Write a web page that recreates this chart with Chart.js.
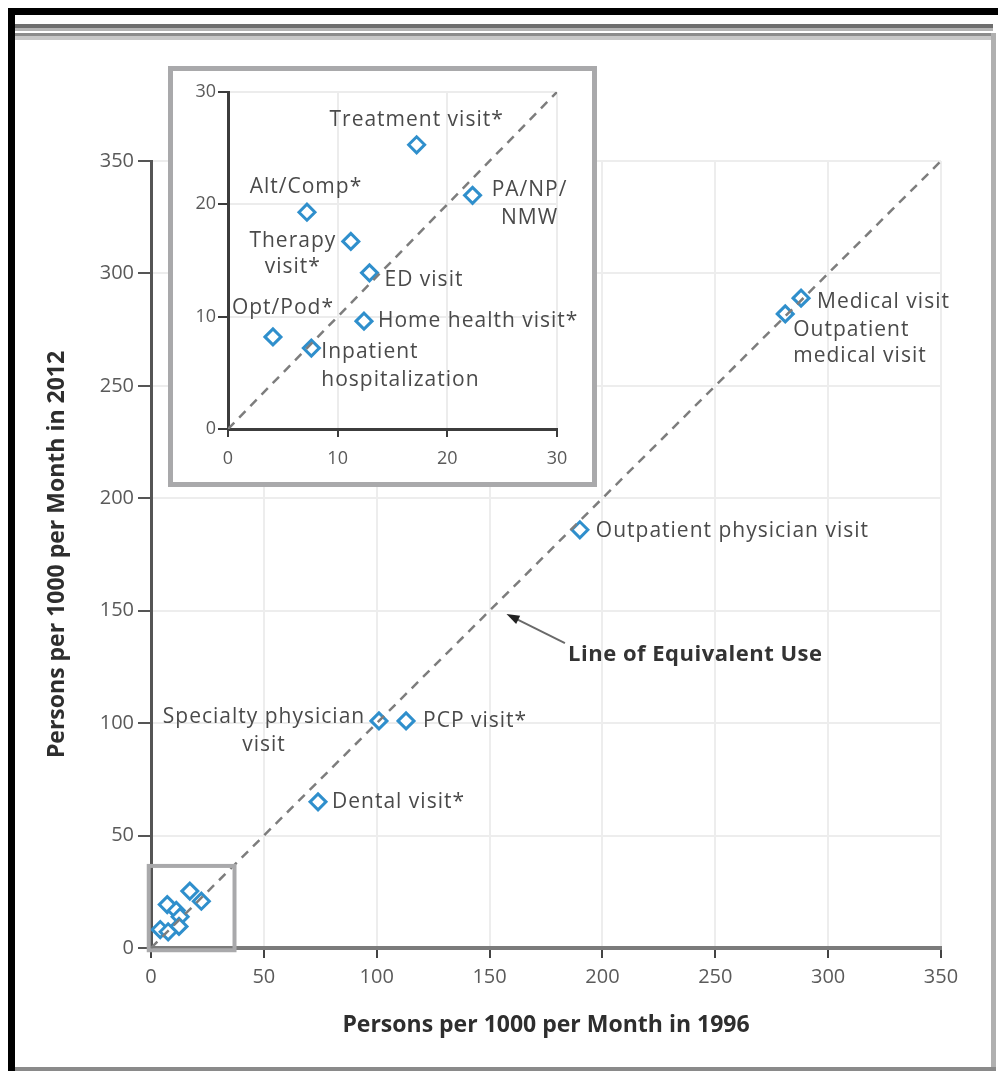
<!DOCTYPE html>
<html>
<head>
<meta charset="utf-8">
<script src="https://cdn.jsdelivr.net/npm/chart.js@4.4.1/dist/chart.umd.min.js"></script>
<style>
  html, body { margin: 0; padding: 0; background: #fff; }
  #page { position: relative; width: 998px; height: 1071px; overflow: hidden; background: #fff; }
  .bar { position: absolute; }
  #mainChart { position: absolute; left: 0; top: 0; }
  #insetBox {
    position: absolute; left: 168px; top: 66px; width: 429px; height: 421px;
    box-sizing: border-box; border: 5px solid #a9a9ab; background: #fff;
  }
  #insetChart { position: absolute; left: 0; top: 0; }
</style>
</head>
<body>
<div id="page">
  <canvas id="mainChart" width="998" height="1071"></canvas>
  <div id="insetBox"><canvas id="insetChart" width="419" height="411"></canvas></div>
  <!-- marco de la figura -->
  <div class="bar" style="left:8px;top:8px;width:990px;height:7px;background:#000"></div>
  <div class="bar" style="left:8px;top:8px;width:7px;height:1063px;background:#000"></div>
  <div class="bar" style="left:15px;top:24px;width:978px;height:4px;background:#6e6e6e"></div>
  <div class="bar" style="left:15px;top:28px;width:978px;height:3px;background:#b4b4b4"></div>
  <div class="bar" style="left:15px;top:33px;width:978px;height:3px;background:#8c8c8c"></div>
  <div class="bar" style="left:15px;top:36px;width:978px;height:4px;background:#c8c8c8"></div>
  <div class="bar" style="left:991px;top:33px;width:5px;height:1038px;background:#b0b0b0"></div>
  <div class="bar" style="left:15px;top:1067px;width:981px;height:4px;background:#8a8a8a"></div>
</div>

<script>
// ---- datos ----
const mainNames = ['Medical visit', 'Outpatient medical visit', 'Outpatient physician visit', 'PCP visit*', 'Specialty physician visit', 'Dental visit*'];
const main1996 = [288, 281, 190, 113, 101, 74];
const main2012 = [289, 282, 186, 101, 101, 65];

const insetNames = ['Treatment visit*', 'PA/NP/NMW', 'Alt/Comp*', 'Therapy visit*', 'ED visit', 'Home health visit*', 'Opt/Pod*', 'Inpatient hospitalization'];
const inset1996 = [17.2, 22.3, 7.2, 11.2, 12.9, 12.4, 4.1, 7.6];
const inset2012 = [25.3, 20.8, 19.3, 16.7, 13.9, 9.6, 8.2, 7.2];

const mainTicks = [0, 50, 100, 150, 200, 250, 300, 350];
const insetTicks = [0, 10, 20, 30];

const xTitle = 'Persons per 1000 per Month in 1996';
const yTitle = 'Persons per 1000 per Month in 2012';
const lineNote = 'Line of Equivalent Use';

// ---- estilos ----
const FONT = "'Open Sans', 'DejaVu Sans', sans-serif";
const BLUE = '#2f8fcc';
const TEXT = '#4a4a4a';
const DASH = '#7d7d7d';

// colocación de etiquetas respecto al punto (px)
const mainPlace = {
  'Medical visit': { lines: ['Medical visit'], align: 'left', dx: 16, dy: 4 },
  'Outpatient medical visit': { lines: ['Outpatient', 'medical visit'], align: 'left', dx: 8, dy: 16, gap: 26 },
  'Outpatient physician visit': { lines: ['Outpatient physician visit'], align: 'left', dx: 16, dy: 1 },
  'PCP visit*': { lines: ['PCP visit*'], align: 'left', dx: 17, dy: 0 },
  'Specialty physician visit': { lines: ['Specialty physician', 'visit'], align: 'center', dx: -115, dy: -4, gap: 28 },
  'Dental visit*': { lines: ['Dental visit*'], align: 'left', dx: 14, dy: 0 }
};
const insetPlace = {
  'Treatment visit*': { lines: ['Treatment visit*'], align: 'center', dx: 0, dy: -25 },
  'PA/NP/NMW': { lines: ['PA/NP/', 'NMW'], align: 'center', dx: 57, dy: -5, gap: 28 },
  'Alt/Comp*': { lines: ['Alt/Comp*'], align: 'center', dx: -1, dy: -25 },
  'Therapy visit*': { lines: ['Therapy', 'visit*'], align: 'center', dx: -58, dy: 0, gap: 26 },
  'ED visit': { lines: ['ED visit'], align: 'left', dx: 15, dy: 7 },
  'Home health visit*': { lines: ['Home health visit*'], align: 'left', dx: 14, dy: 0 },
  'Opt/Pod*': { lines: ['Opt/Pod*'], align: 'center', dx: 10, dy: -29 },
  'Inpatient hospitalization': { lines: ['Inpatient', 'hospitalization'], align: 'left', dx: 10, dy: 4, gap: 28 }
};

function toPoints(xs, ys) {
  return xs.map((x, i) => ({ x: x, y: ys[i] }));
}

function labelPlugin(id, names, place, size) {
  return {
    id: id,
    afterDatasetsDraw(chart) {
      const ctx = chart.ctx;
      const meta = chart.getDatasetMeta(1);
      ctx.save();
      ctx.font = size + 'px ' + FONT;
      ctx.letterSpacing = '1px';
      ctx.fillStyle = TEXT;
      ctx.textBaseline = 'middle';
      names.forEach((name, i) => {
        const p = place[name];
        const el = meta.data[i];
        if (!p || !el) return;
        ctx.textAlign = p.align;
        p.lines.forEach((ln, k) => {
          ctx.fillText(ln, el.x + p.dx, el.y + p.dy + k * (p.gap || 0));
        });
      });
      ctx.restore();
    }
  };
}

// caja pequeña + flecha de "Line of Equivalent Use"
const mainExtras = {
  id: 'mainExtras',
  afterDatasetsDraw(chart) {
    const ctx = chart.ctx;
    const xs = chart.scales.x, ys = chart.scales.y;
    ctx.save();
    // recuadro de la zona ampliada
    const x0 = xs.getPixelForValue(-1), x1 = xs.getPixelForValue(37);
    const y0 = ys.getPixelForValue(-1), y1 = ys.getPixelForValue(36.5);
    ctx.strokeStyle = '#a9a9ab';
    ctx.lineWidth = 4;
    ctx.strokeRect(x0, y1, x1 - x0, y0 - y1);

    // flecha
    const tx = xs.getPixelForValue(157.5), ty = ys.getPixelForValue(148.5);
    const sx = xs.getPixelForValue(183.4), sy = ys.getPixelForValue(135.6);
    const ang = Math.atan2(ty - sy, tx - sx);
    ctx.strokeStyle = '#6a6a6a';
    ctx.lineWidth = 2;
    ctx.beginPath();
    ctx.moveTo(sx, sy);
    ctx.lineTo(tx - 8 * Math.cos(ang), ty - 8 * Math.sin(ang));
    ctx.stroke();
    ctx.fillStyle = '#222';
    ctx.beginPath();
    ctx.moveTo(tx, ty);
    ctx.lineTo(tx - 13 * Math.cos(ang) + 4.5 * Math.sin(ang), ty - 13 * Math.sin(ang) - 4.5 * Math.cos(ang));
    ctx.lineTo(tx - 13 * Math.cos(ang) - 4.5 * Math.sin(ang), ty - 13 * Math.sin(ang) + 4.5 * Math.cos(ang));
    ctx.closePath();
    ctx.fill();

    ctx.font = 'bold 22px ' + FONT;
    ctx.letterSpacing = '0.5px';
    ctx.fillStyle = '#333';
    ctx.textAlign = 'left';
    ctx.textBaseline = 'middle';
    ctx.fillText(lineNote, xs.getPixelForValue(184.8), ys.getPixelForValue(130.3));
    ctx.restore();
  }
};

function axisOpts(ticks, min, max, o) {
  return {
    type: 'linear',
    min: min,
    max: max,
    afterBuildTicks: (s) => { s.ticks = ticks.map(v => ({ value: v })); },
    grid: {
      color: o.gridColor,
      lineWidth: 2,
      tickColor: o.tickColor,
      tickWidth: 2,
      tickLength: o.tickLength
    },
    border: { color: o.borderColor, width: o.borderWidth },
    ticks: {
      color: '#5a5a5a',
      padding: o.padding,
      font: { family: FONT, size: o.fontSize }
    },
    title: o.title ? {
      display: true,
      text: o.title,
      color: '#2e2e2e',
      padding: o.titlePad,
      font: { family: FONT, size: 23, weight: 'bold' }
    } : { display: false },
    afterFit: o.fit
  };
}

const pointStyle = {
  pointStyle: 'rectRot',
  pointRadius: 8,
  pointHoverRadius: 8,
  pointBorderWidth: 3,
  pointBorderColor: BLUE,
  pointBackgroundColor: '#fff'
};

// ---- gráfico principal ----
new Chart(document.getElementById('mainChart'), {
  type: 'scatter',
  data: {
    datasets: [
      {
        type: 'line',
        data: [{ x: 0, y: 0 }, { x: 350, y: 350 }],
        borderColor: DASH,
        borderWidth: 2.5,
        borderDash: [9, 7],
        pointRadius: 0,
        fill: false
      },
      Object.assign({
        data: toPoints(main1996, main2012).concat(toPoints(inset1996, inset2012))
      }, pointStyle)
    ]
  },
  options: {
    responsive: false,
    devicePixelRatio: 1,
    animation: false,
    layout: { padding: { left: 40, right: 57, top: 161, bottom: 30 } },
    plugins: { legend: { display: false }, tooltip: { enabled: false } },
    scales: {
      x: axisOpts(mainTicks, 0, 350, {
        gridColor: '#ededed', tickColor: '#444', tickLength: 10, borderColor: '#7b7b7b', borderWidth: 4,
        padding: 7, fontSize: 20, title: xTitle, titlePad: { top: 0, bottom: 2 },
        fit: (s) => { s.height = 93; }
      }),
      y: axisOpts(mainTicks, 0, 350, {
        gridColor: '#ededed', tickColor: '#555', tickLength: 13, borderColor: '#555', borderWidth: 3,
        padding: 4, fontSize: 20, title: yTitle, titlePad: { top: 4, bottom: 0 },
        fit: (s) => { s.width = 111; }
      })
    }
  },
  plugins: [labelPlugin('mainLabels', mainNames, mainPlace, 21), mainExtras]
});

// ---- gráfico ampliado (inserto) ----
new Chart(document.getElementById('insetChart'), {
  type: 'scatter',
  data: {
    datasets: [
      {
        type: 'line',
        data: [{ x: 0, y: 0 }, { x: 30, y: 30 }],
        borderColor: DASH,
        borderWidth: 2.5,
        borderDash: [9, 7],
        pointRadius: 0,
        fill: false
      },
      Object.assign({ data: toPoints(inset1996, inset2012) }, pointStyle)
    ]
  },
  options: {
    responsive: false,
    devicePixelRatio: 1,
    animation: false,
    layout: { padding: { left: 0, right: 35, top: 21, bottom: 0 } },
    plugins: { legend: { display: false }, tooltip: { enabled: false } },
    scales: {
      x: axisOpts(insetTicks, 0, 30, {
        gridColor: '#ececec', tickColor: '#3c3c3c', tickLength: 8, borderColor: '#3c3c3c', borderWidth: 3,
        padding: 11, fontSize: 18, fit: (s) => { s.height = 53; }
      }),
      y: axisOpts(insetTicks, 0, 30, {
        gridColor: '#ececec', tickColor: '#3c3c3c', tickLength: 10, borderColor: '#3c3c3c', borderWidth: 3,
        padding: 2, fontSize: 18, fit: (s) => { s.width = 55; }
      })
    }
  },
  plugins: [labelPlugin('insetLabels', insetNames, insetPlace, 21)]
});
</script>
</body>
</html>
